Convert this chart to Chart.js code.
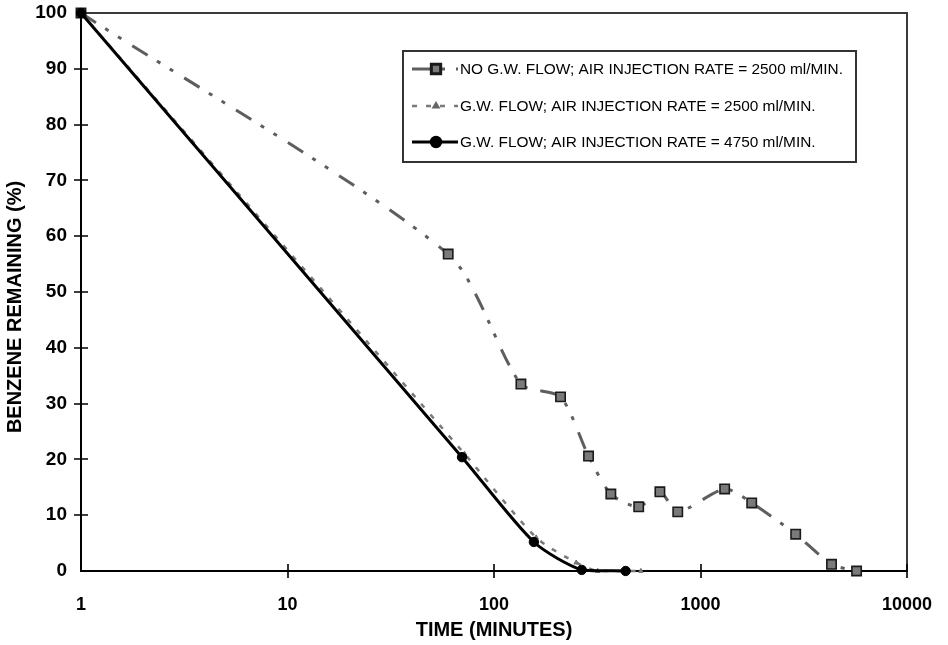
<!DOCTYPE html>
<html>
<head>
<meta charset="utf-8">
<title>Benzene remaining vs time</title>
<script src="https://cdn.jsdelivr.net/npm/chart.js@4.4.1/dist/chart.umd.min.js"></script>
<style>
  html, body { margin: 0; padding: 0; background: #fff; }
  #wrap { width: 948px; height: 645px; }
</style>
</head>
<body>
<div id="wrap"><canvas id="benzeneChart" width="948" height="645"></canvas></div>
<script>
const seriesLabels = [
  "NO G.W. FLOW; AIR INJECTION RATE = 2500 ml/MIN.",
  "G.W. FLOW; AIR INJECTION RATE = 2500 ml/MIN.",
  "G.W. FLOW; AIR INJECTION RATE = 4750 ml/MIN.",
];

// minutes / % remaining
const noFlowTime = [1, 60, 135, 210, 287, 368, 502, 636, 776, 1309, 1770, 2890, 4310, 5700];
const noFlowRemaining = [100, 56.8, 33.5, 31.2, 20.6, 13.8, 11.5, 14.2, 10.6, 14.7, 12.2, 6.6, 1.2, 0];

const flowTime = [1, 72, 160, 250, 318, 514];
const flowRemaining = [100, 21, 6, 1.5, 0, 0];

const highRateTime = [1, 70, 156, 266, 434];
const highRateRemaining = [100, 20.4, 5.2, 0.2, 0];

const timeTicks = [1, 10, 100, 1000, 10000];
const remainingTicks = [0, 10, 20, 30, 40, 50, 60, 70, 80, 90, 100];

const yTitle = "BENZENE REMAINING (%)";
const xTitle = "TIME (MINUTES)";

const toPoints = (xs, ys) => xs.map((x, i) => ({ x, y: ys[i] }));
const FONT = "'Liberation Sans', Arial, sans-serif";

// frame on top/right plus tick marks that cross the axes
const framePlugin = {
  id: "frame",
  beforeDatasetsDraw(chart) {
    const { ctx, chartArea: a, scales } = chart;
    ctx.save();
    ctx.strokeStyle = "#3a3a3a";
    ctx.lineWidth = 2;
    ctx.beginPath();
    ctx.moveTo(a.left, a.top);
    ctx.lineTo(a.right, a.top);
    ctx.lineTo(a.right, a.bottom);
    ctx.stroke();

    ctx.strokeStyle = "#000";
    ctx.lineWidth = 1.6;
    ctx.beginPath();
    timeTicks.slice(1).forEach((v) => {
      const px = Math.round(scales.x.getPixelForValue(v));
      ctx.moveTo(px, a.bottom - 7);
      ctx.lineTo(px, a.bottom + 7);
    });
    remainingTicks.slice(1, -1).forEach((v) => {
      const py = Math.round(scales.y.getPixelForValue(v));
      ctx.moveTo(a.left - 7, py);
      ctx.lineTo(a.left + 7, py);
    });
    ctx.stroke();
    ctx.restore();
  },
};

// boxed legend inside the plot + rotated y title
const legendPlugin = {
  id: "boxLegend",
  afterDatasetsDraw(chart) {
    const { ctx } = chart;
    const box = { x: 403, y: 51, w: 453, h: 111 };
    ctx.save();
    ctx.fillStyle = "#fff";
    ctx.fillRect(box.x, box.y, box.w, box.h);
    ctx.strokeStyle = "#333";
    ctx.lineWidth = 2;
    ctx.strokeRect(box.x, box.y, box.w, box.h);

    const rows = [69, 106, 142];
    chart.data.datasets.forEach((ds, i) => {
      const y = rows[i];
      ctx.save();
      ctx.strokeStyle = ds.borderColor;
      ctx.lineWidth = ds.borderWidth;
      ctx.setLineDash(ds.borderDash || []);
      ctx.beginPath();
      ctx.moveTo(412, y);
      ctx.lineTo(458, y);
      ctx.stroke();
      ctx.setLineDash([]);
      ctx.fillStyle = ds.pointBackgroundColor;
      ctx.strokeStyle = ds.pointBorderColor;
      Chart.helpers.drawPoint(ctx, {
        pointStyle: ds.pointStyle,
        radius: ds.pointRadius,
        borderWidth: ds.pointBorderWidth,
        rotation: 0,
      }, 436, y);
      ctx.restore();

      ctx.fillStyle = "#000";
      ctx.font = "15.4px " + FONT;
      ctx.textBaseline = "middle";
      ctx.textAlign = "left";
      ctx.fillText(seriesLabels[i], 460, y + 1);
    });

    ctx.translate(15, 307);
    ctx.rotate(-Math.PI / 2);
    ctx.font = "bold 20px " + FONT;
    ctx.textAlign = "center";
    ctx.textBaseline = "middle";
    ctx.fillText(yTitle, 0, 0);
    ctx.restore();
  },
};

new Chart(document.getElementById("benzeneChart"), {
  type: "line",
  data: {
    datasets: [
      {
        label: seriesLabels[0],
        data: toPoints(noFlowTime, noFlowRemaining),
        borderColor: "#5e5e5e",
        borderWidth: 3,
        borderDash: [18, 11, 4, 11, 4, 13],
        tension: 0.25,
        pointStyle: "rect",
        pointRadius: 6.6,
        pointBackgroundColor: "#7a7a7a",
        pointBorderColor: "#1a1a1a",
        pointBorderWidth: 1.6,
        order: 2,
        clip: false,
      },
      {
        label: seriesLabels[1],
        data: toPoints(flowTime, flowRemaining),
        borderColor: "#7a7a7a",
        borderWidth: 2.5,
        borderDash: [5, 9],
        tension: 0.25,
        pointStyle: "triangle",
        pointRadius: 2.6,
        pointBackgroundColor: "#8a8a8a",
        pointBorderColor: "#666",
        pointBorderWidth: 1,
        order: 1,
        clip: false,
      },
      {
        label: seriesLabels[2],
        data: toPoints(highRateTime, highRateRemaining),
        borderColor: "#000",
        borderWidth: 3,
        tension: 0.25,
        pointStyle: "circle",
        pointRadius: 4.7,
        pointBackgroundColor: "#000",
        pointBorderColor: "#000",
        pointBorderWidth: 1,
        order: 0,
        clip: false,
      },
    ],
  },
  options: {
    responsive: false,
    animation: false,
    devicePixelRatio: 1,
    layout: { padding: { top: 13, right: 41, left: 0, bottom: 0 } },
    plugins: {
      legend: { display: false },
      tooltip: { enabled: false },
    },
    scales: {
      x: {
        type: "logarithmic",
        min: 1,
        max: 10000,
        afterBuildTicks: (s) => { s.ticks = timeTicks.map((v) => ({ value: v })); },
        afterFit: (s) => { s.height = 74; s.paddingLeft = 0; s.paddingRight = 0; },
        grid: { display: false },
        border: { color: "#000", width: 2 },
        ticks: {
          autoSkip: false,
          maxRotation: 0,
          padding: 15,
          color: "#000",
          font: { family: FONT, size: 18, weight: "bold" },
          callback: (v) => String(v),
        },
        title: {
          display: true,
          text: xTitle,
          color: "#000",
          font: { family: FONT, size: 20, weight: "bold" },
          padding: { top: 0, bottom: 3 },
        },
      },
      y: {
        min: 0,
        max: 100,
        afterBuildTicks: (s) => { s.ticks = remainingTicks.map((v) => ({ value: v })); },
        afterFit: (s) => { s.width = 81; s.paddingTop = 0; s.paddingBottom = 0; },
        grid: { display: false },
        border: { color: "#000", width: 2 },
        ticks: {
          padding: 6,
          color: "#000",
          font: { family: FONT, size: 19, weight: "bold" },
        },
      },
    },
  },
  plugins: [framePlugin, legendPlugin],
});
</script>
</body>
</html>
